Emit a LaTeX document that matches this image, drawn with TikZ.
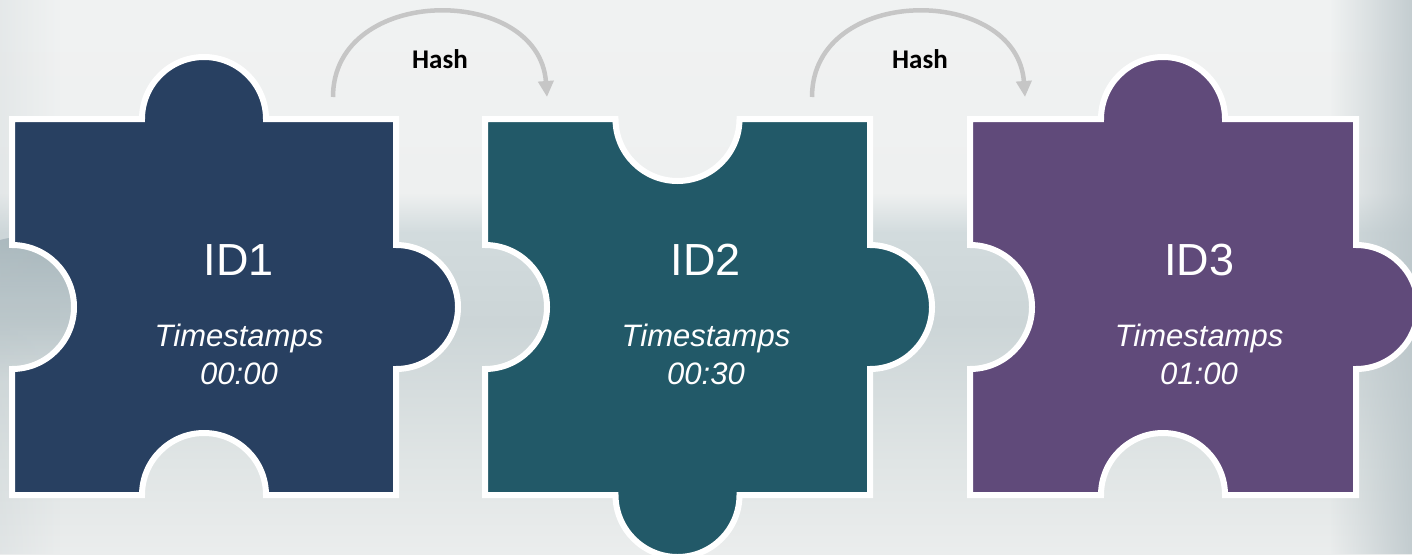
\documentclass[tikz,border=0pt]{standalone}
\usepackage{fontspec}
\setmainfont{Liberation Sans}
\newfontfamily\hashfont{Carlito}
\usetikzlibrary{arrows.meta,fadings}
\definecolor{pA}{RGB}{40,64,97}
\definecolor{pB}{RGB}{34,89,104}
\definecolor{pC}{RGB}{96,74,122}
\definecolor{arcgray}{RGB}{198,198,198}
\definecolor{bgA}{RGB}{234,236,236}
\definecolor{bgB}{RGB}{236,238,238}
\definecolor{bgC}{RGB}{224,229,229}
\definecolor{bgD}{RGB}{204,213,215}
\definecolor{bgE}{RGB}{210,219,221}
\definecolor{bgF}{RGB}{238,240,240}
\definecolor{bgG}{RGB}{244,245,245}
\definecolor{hillgray}{RGB}{160,176,182}
\definecolor{edgegray}{RGB}{185,196,200}
\pgfdeclareverticalshading{bgshade}{100bp}{color(0bp)=(bgA); color(24.2bp)=(bgB); color(33.2bp)=(bgC); color(45.8bp)=(bgD); color(54bp)=(bgE); color(57.6bp)=(bgF); color(100bp)=(bgG)}
\tikzfading[name=fadeinright, left color=transparent!100, right color=transparent!0]
\tikzfading[name=fadeinleft, left color=transparent!0, right color=transparent!100]
\tikzfading[name=fadedownward, top color=transparent!0, bottom color=transparent!100]
\tikzset{
  piece/.style={draw=white, line width=6pt, line join=miter},
  idtext/.style={text=white, anchor=base, inner sep=0pt, font=\fontsize{45}{54}\selectfont},
  tstext/.style={text=white, anchor=base, inner sep=0pt, font=\fontsize{31}{37}\selectfont\itshape},
  hashtext/.style={text=black, anchor=base, inner sep=0pt, font=\hashfont\bfseries\fontsize{27}{32}\selectfont},
  hasharc/.style={draw=arcgray, line width=4.5pt, -{Triangle[length=16pt,width=15pt]}},
}
\newcommand\pr{62}
% #1 L, #2 R, #3 T, #4 B, #5 colour, #6 top end angle, #7 right end angle, #8 bottom end angle
\newcommand\jigpiece[8]{%
  \pgfmathsetmacro\pcx{(#1+#2)/2}%
  \pgfmathsetmacro\pcy{(#3+#4)/2}%
  \filldraw[piece, fill=#5] (#1,#3) -- ({\pcx-\pr},#3)
    arc[start angle=180, end angle=#6, radius=\pr] -- (#2,#3)
    -- (#2,{\pcy-\pr}) arc[start angle=270, end angle=#7, radius=\pr] -- (#2,#4)
    -- ({\pcx+\pr},#4) arc[start angle=0, end angle=#8, radius=\pr] -- (#1,#4)
    -- (#1,{\pcy+\pr}) arc[start angle=90, end angle=-90, radius=\pr] -- cycle;}
\begin{document}
\begin{tikzpicture}[x=1pt,y=-1pt]
\useasboundingbox (0,0) rectangle (1412,554);
\clip (0,0) rectangle (1412,554);
% background
\shade[shading=bgshade] (0,0) rectangle (1412,554);
\fill[hillgray, path fading=fadedownward, fill opacity=0.85] (0,240) .. controls (20,234) and (50,237) .. (80,249) -- (115,262) -- (115,380) -- (0,380) -- cycle;
\fill[edgegray, path fading=fadeinright, fill opacity=0.8] (1330,0) rectangle (1412,554);
\fill[edgegray, path fading=fadeinleft, fill opacity=0.2] (0,0) rectangle (60,554);
% pieces
\jigpiece{12}{396}{119}{495}{pA}{360}{450}{-180}
\jigpiece{485}{870}{119}{495}{pB}{0}{450}{180}
\jigpiece{970}{1356}{119}{495}{pC}{360}{450}{-180}
% texts
\node[idtext] (id1) at (239,275) {ID1};
\node[tstext] (ts1) at (239,346) {Timestamps};
\node[tstext] (tm1) at (239,384) {00:00};
\node[idtext] (id2) at (706,275) {ID2};
\node[tstext] (ts2) at (706,346) {Timestamps};
\node[tstext] (tm2) at (706,384) {00:30};
\node[idtext] (id3) at (1199,275) {ID3};
\node[tstext] (ts3) at (1199,346) {Timestamps};
\node[tstext] (tm3) at (1199,384) {01:00};
% hash arrows
\node[hashtext] (hash1) at (440,68) {Hash};
\node[hashtext] (hash2) at (920,68) {Hash};
\coordinate (h1s) at (333,97);
\coordinate (h1e) at (547,97);
\coordinate (h2s) at (812,97);
\coordinate (h2e) at (1025,97);
\draw[hasharc] (h1s) .. controls +(0,-113) and +(-8,-113) .. (h1e);
\draw[hasharc] (h2s) .. controls +(0,-113) and +(-8,-113) .. (h2e);
\end{tikzpicture}
\end{document}
